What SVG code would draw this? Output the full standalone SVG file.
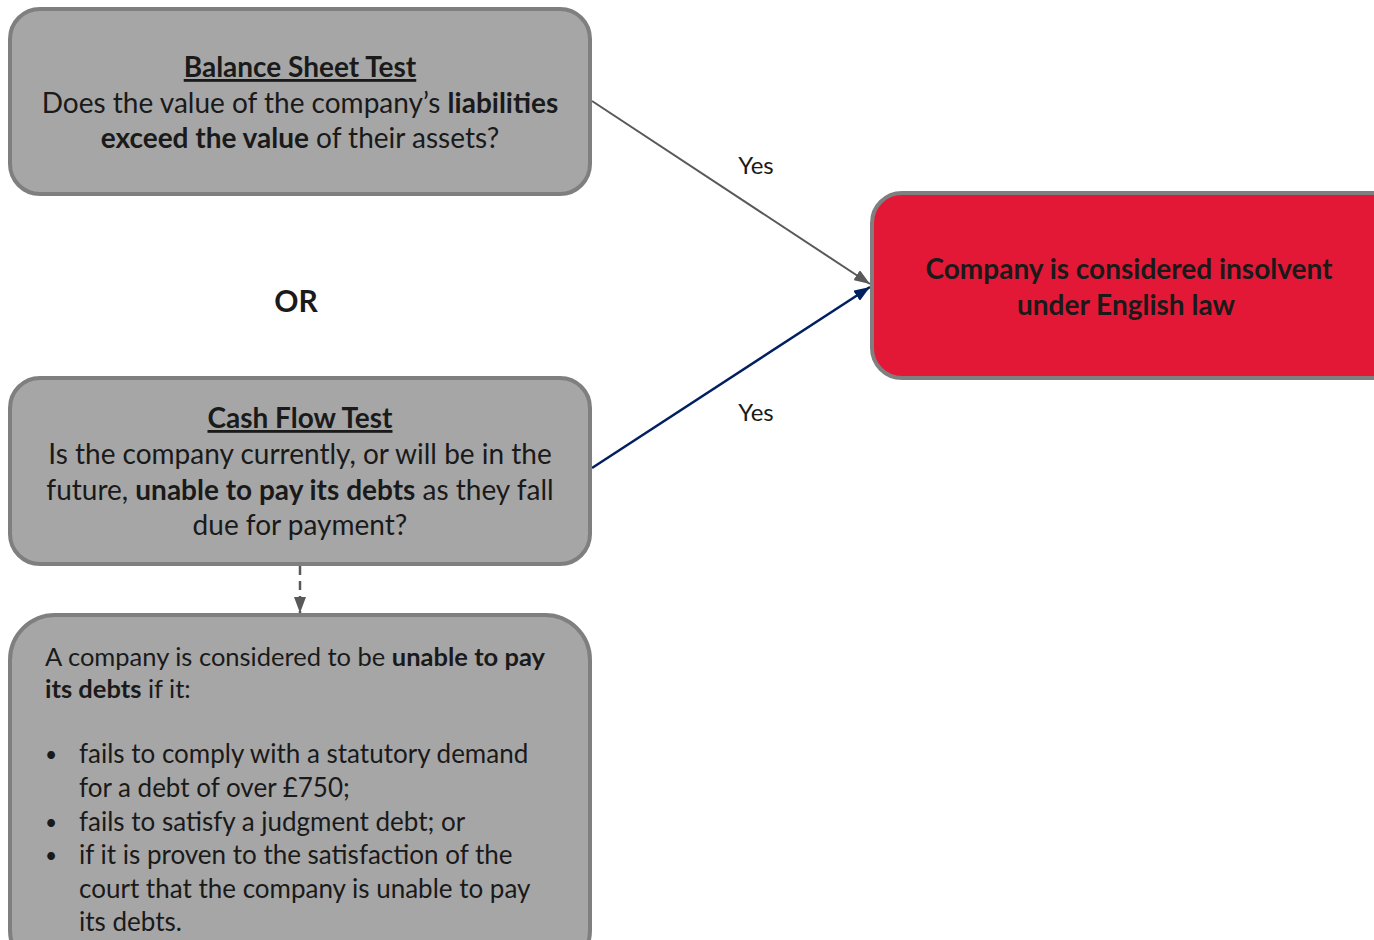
<svg xmlns="http://www.w3.org/2000/svg" width="1374" height="940" viewBox="0 0 1374 940">
<style>
.box{fill:#a6a6a7;stroke:#7f7f7f;stroke-width:4}
.red{fill:#e31837;stroke:#7f7f7f;stroke-width:4}
text{font-family:Lato,"Liberation Sans",sans-serif;fill:#1a1a1a}
.t{font-size:28px;text-anchor:middle}
.s{font-size:25.5px}
.w{font-size:26px}
.d{font-size:21px}
.b{font-weight:bold}
.u{text-decoration:underline}
.lbl{font-size:24px;text-anchor:middle}
</style>
<defs>
<marker id="ag" viewBox="0 0 16 12" refX="16" refY="6" markerWidth="16" markerHeight="12" orient="auto" markerUnits="userSpaceOnUse"><path d="M0,0 L16,6 L0,12 z" fill="#595959"/></marker>
<marker id="an" viewBox="0 0 16 12" refX="16" refY="6" markerWidth="16" markerHeight="12" orient="auto" markerUnits="userSpaceOnUse"><path d="M0,0 L16,6 L0,12 z" fill="#002060"/></marker>
</defs>
<rect width="1374" height="940" fill="#fff"/>
<g id="connectors">
<path d="M592,101 L870,284" stroke="#595959" stroke-width="2" fill="none" marker-end="url(#ag)"/>
<path d="M592,468 L870,287" stroke="#002060" stroke-width="2.5" fill="none" marker-end="url(#an)"/>
<path d="M300,566 L300,613" stroke="#595959" stroke-width="2.5" stroke-dasharray="9,6" fill="none" marker-end="url(#ag)"/>
<text class="lbl" x="756" y="174">Yes</text>
<text class="lbl" x="756" y="421">Yes</text>
</g>
<g id="balance">
<rect class="box" x="10" y="9" width="580" height="185" rx="30"/>
<text class="t b u" x="300" y="77">Balance Sheet Test</text>
<text class="t" x="300" y="113">Does the value of the company’s <tspan class="b">liabilities</tspan></text>
<text class="t" x="300" y="148"><tspan class="b">exceed the value</tspan> of their assets?</text>
</g>
<g id="or">
<text class="b" x="296" y="312" style="font-size:30px;text-anchor:middle">OR</text>
</g>
<g id="insolvent">
<rect class="red" x="872" y="193" width="540" height="185" rx="30"/>
<text class="t b" x="1129" y="279">Company is considered insolvent</text>
<text class="t b" x="1126" y="315">under English law</text>
</g>
<g id="cashflow">
<rect class="box" x="10" y="378" width="580" height="186" rx="30"/>
<text class="t b u" x="300" y="428">Cash Flow Test</text>
<text class="t" x="300" y="464">Is the company currently, or will be in the</text>
<text class="t" x="300" y="500">future, <tspan class="b">unable to pay its debts</tspan> as they fall</text>
<text class="t" x="300" y="535">due for payment?</text>
</g>
<g id="unable">
<rect class="box" x="10" y="615" width="580" height="360" rx="45"/>
<text class="s" x="45" y="666">A company is considered to be <tspan class="b">unable to pay</tspan></text>
<text class="s" x="45" y="698"><tspan class="b">its debts</tspan> if it:</text>
<text class="d" x="45" y="762">•</text>
<text class="w" x="79" y="763">fails to comply with a statutory demand</text>
<text class="w" x="79" y="797">for a debt of over £750;</text>
<text class="d" x="45" y="830">•</text>
<text class="w" x="79" y="831">fails to satisfy a judgment debt; or</text>
<text class="d" x="45" y="863">•</text>
<text class="w" x="79" y="864">if it is proven to the satisfaction of the</text>
<text class="w" x="79" y="898">court that the company is unable to pay</text>
<text class="w" x="79" y="931">its debts.</text>
</g>
</svg>
